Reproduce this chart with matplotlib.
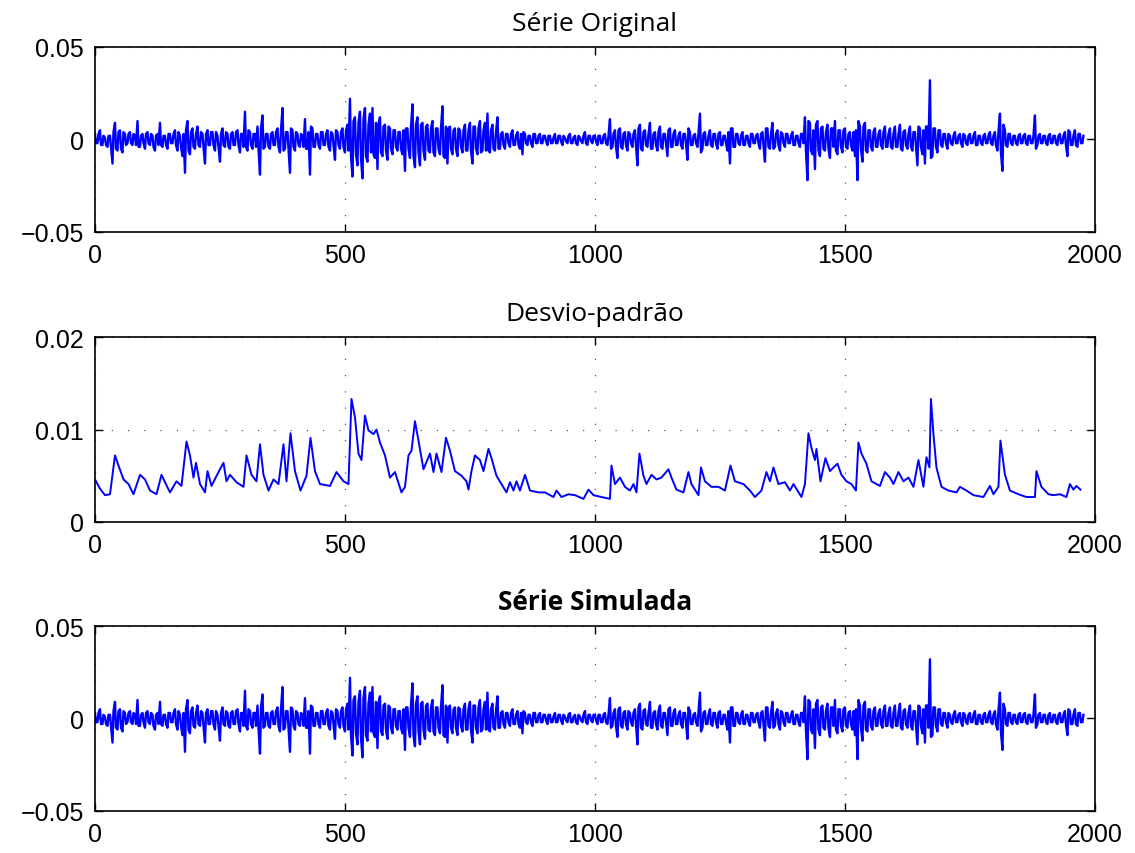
import numpy as np
import matplotlib.pyplot as plt

# retornos (unidades de 1e-3)
# ret_vals: observações 0, 5, 10, ... ; ret_mid: observações 2, 7, 12, ...
ret_step = 5
ret_vals = [
    3, -2, 5, -3, 1, -4, 2, -13, 9, -6, 5, -7, 3, -2, 4, -3, 2, 10, -4, 3,
    -5, 4, -3, 2, -6, 3, 9, -4, 2, -5, 3, -2, 5, -6, 2, -9, -18, 10, -8, 6,
    -5, 7, -4, 3, -13, 5, -3, 4, -6, 2, -12, 6, -4, 3, -5, 4, -3, 5, -7, 3,
    15, -6, 4, -5, 3, 7, -19, 13, -4, 3, -5, 4, -3, 6, -7, 17, -5, 4, -18, 5,
    -6, 3, -4, 2, 11, -5, -19, 6, -4, 3, -5, 4, -3, 5, -6, 3, -11, 4, -5, 6,
    -7, 8, 22, -20, 12, -14, 15, -21, 17, -12, 14, 17, -10, -16, 12, -9, 8, -11, 6, -8,
    5, -6, 4, -8, -17, 6, -10, 19, -15, 12, -14, 9, -11, 8, -7, 10, -9, 6, -8, 18,
    -10, -13, 7, -8, 6, -9, 5, -7, 8, -6, 9, -13, 7, -8, 10, -6, 9, 14, -7, 8,
    -6, 12, -5, 4, -5, 3, -4, 5, -3, 4, -5, -8, 3, -3, 2, -4, 3, -2, 3, -2,
    2, -3, 2, -2, 3, -2, 2, -3, 1, -2, 3, -2, 2, -3, 1, -2, 4, -3, 2, -2,
    2, -3, 2, -2, 3, -3, 11, -4, 5, -10, 6, -5, 4, -6, 3, -4, 5, -14, 8, -6,
    5, -4, 9, -5, 4, -6, 7, -5, 3, -9, 6, -4, 5, -3, 4, -5, 3, -11, 4, -3,
    3, -4, 14, -5, 4, -3, 5, -4, 3, -5, 4, -3, 2, -6, -13, 6, -4, 3, -3, 4,
    -3, 2, -4, 3, -2, 3, -5, 4, -12, 6, -5, 9, -4, 5, -6, 3, -4, 3, -2, 4,
    -3, 2, -4, 3, 12, -22, 9, -8, -16, 10, -9, 7, -6, 8, -10, 6, 10, -8, 5, -7,
    6, -5, 4, -6, -9, -22, 7, -12, 9, -7, 5, -6, 6, -4, 5, -5, 7, -4, 6, -5,
    7, -4, 8, -6, 5, -5, 7, -6, 4, -14, 6, -8, -13, 7, 32, -9, 6, -7, 5, -4,
    3, -5, 2, -3, 4, -2, 3, -4, 2, -3, 3, -2, 4, -3, 2, -3, 3, -2, 4, -3,
    4, -6, 14, -17, 5, -4, 3, -3, 2, -3, 3, -2, 3, -3, 2, -2, 13, -3, 3, -2,
    2, -3, 3, -2, 2, -3, 3, -2, 4, -9, 4, -3, 5, -4, 3, -2,
]
ret_mid = [
    -2, 3, -3, 2, -3, 2, -4, 4, -5, 4, -5, 4, -3, 3, -2, 3, -3, -4, 2, -2,
    3, -2, 3, -4, 2, -3, -3, 2, -3, 3, -2, 3, -3, 4, -4, 3, 5, -6, 4, -4,
    3, -3, 4, -4, 3, -3, 4, -3, 4, -4, 3, -3, 4, -4, 3, -3, 4, -3, 3, -4,
    -4, 5, -3, 3, -4, -5, 6, -5, 3, -4, 3, -3, 4, -4, 5, -6, 4, -5, 6, -4,
    4, -3, 3, -4, -5, 4, 7, -4, 3, -3, 4, -3, 3, -4, 4, -3, 5, -3, 4, -4,
    5, -6, -9, 10, -8, 9, -10, 11, -9, 8, -7, -8, 9, 8, -7, 7, -6, 7, -5, 5,
    -4, 4, -5, 5, 6, -5, 7, -9, 8, -7, 8, -6, 7, -6, 6, -7, 6, -5, 6, -9,
    7, 6, -5, 5, -5, 6, -4, 5, -6, 5, -6, 7, -5, 6, -7, 5, -6, -6, 5, -5,
    4, -5, 3, -3, 3, -2, 3, -3, 2, -3, 3, 4, -2, 2, -2, 3, -2, 2, -2, 2,
    -1, 2, -2, 1, -2, 2, -1, 2, -1, 2, -2, 1, -2, 2, -1, 2, -2, 2, -1, 2,
    -1, 2, -2, 2, -2, 2, -5, 3, -4, 5, -4, 3, -3, 4, -2, 3, -3, 6, -5, 4,
    -3, 3, -5, 3, -3, 4, -4, 3, -2, 5, -4, 3, -3, 2, -3, 3, -2, 6, -3, 2,
    -2, 3, -7, 3, -3, 2, -3, 3, -2, 3, -3, 2, -2, 4, 6, -4, 3, -2, 2, -3,
    2, -2, 3, -2, 2, -2, 3, -3, 6, -4, 3, -5, 3, -3, 4, -2, 3, -2, 2, -3,
    2, -2, 3, -2, -6, 10, -6, 5, 8, -6, 6, -5, 4, -5, 6, -4, -6, 5, -4, 5,
    -4, 3, -3, 4, 5, 10, -5, 7, -6, 5, -4, 4, -4, 3, -3, 4, -4, 3, -4, 3,
    -4, 3, -5, 4, -3, 3, -4, 4, -3, 7, -4, 5, 7, -5, -10, 6, -4, 5, -3, 3,
    -2, 3, -2, 2, -2, 2, -2, 3, -2, 2, -2, 2, -3, 2, -2, 2, -2, 2, -2, 2,
    -3, 4, -7, 8, -3, 3, -2, 2, -2, 2, -2, 2, -2, 2, -2, 2, -5, 2, -2, 2,
    -2, 2, -2, 2, -2, 2, -2, 2, -3, 5, -3, 2, -3, 3, -2, 2,
]

# desvio-padrão (unidades de 1e-3)
std_t = [0, 10, 20, 30, 40, 47, 57, 67, 77, 90, 100, 110, 123, 133, 140, 150, 163, 173, 183, 190,
         197, 202, 210, 220, 225, 233, 247, 257, 263, 270, 283, 297, 303, 313, 323, 330, 337, 347, 357, 367,
         377, 383, 391, 400, 411, 423, 431, 440, 450, 470, 483, 497, 507, 513, 520, 527, 533, 540, 547, 557,
         563, 570, 580, 590, 600, 613, 620, 627, 633, 640, 647, 657, 670, 677, 683, 693, 702, 710, 720, 733,
         743, 747, 753, 760, 770, 777, 787, 793, 803, 813, 823, 830, 837, 843, 850, 860, 870, 887, 900, 917,
         923, 933, 947, 960, 977, 987, 997, 1013, 1030, 1033, 1040, 1050, 1060, 1070, 1077, 1083, 1089, 1097, 1103, 1113,
         1123, 1133, 1147, 1153, 1163, 1177, 1187, 1193, 1207, 1212, 1220, 1233, 1247, 1260, 1271, 1280, 1297, 1310, 1320, 1333,
         1343, 1350, 1357, 1367, 1380, 1390, 1397, 1413, 1420, 1427, 1433, 1440, 1443, 1451, 1461, 1470, 1477, 1485, 1493, 1503,
         1513, 1522, 1527, 1533, 1543, 1553, 1570, 1580, 1590, 1597, 1607, 1617, 1627, 1637, 1647, 1657, 1663, 1669, 1672, 1677,
         1683, 1693, 1707, 1723, 1730, 1743, 1757, 1777, 1790, 1797, 1807, 1811, 1820, 1830, 1847, 1863, 1880, 1883, 1893, 1907,
         1917, 1930, 1943, 1950, 1957, 1963, 1971]
std_v = [4.6, 3.6, 2.9, 3.0, 7.2, 6.1, 4.6, 4.1, 3.0, 5.1, 4.6, 3.4, 3.0, 5.1, 4.3, 3.2, 4.4, 3.9, 8.7, 7.2,
         4.8, 6.4, 4.1, 3.2, 5.5, 3.9, 5.4, 6.4, 4.4, 5.1, 4.3, 3.8, 7.2, 5.1, 4.4, 8.4, 5.1, 3.4, 4.6, 4.1,
         8.4, 4.4, 9.6, 5.5, 3.4, 5.0, 9.1, 5.5, 4.1, 3.9, 5.4, 4.4, 4.1, 13.3, 11.3, 7.4, 6.7, 11.5, 9.9, 9.5,
         10.0, 8.6, 7.2, 4.8, 5.4, 3.2, 3.8, 7.2, 7.7, 10.9, 8.8, 5.7, 7.4, 5.4, 7.4, 5.4, 9.1, 7.7, 5.5, 5.0,
         4.4, 3.5, 5.5, 7.2, 6.7, 5.5, 7.9, 6.9, 5.0, 4.1, 3.2, 4.3, 3.4, 4.4, 3.4, 5.1, 3.4, 3.2, 3.2, 2.7,
         3.4, 2.7, 3.0, 2.9, 2.5, 3.5, 2.9, 2.7, 2.5, 6.1, 4.1, 4.8, 3.8, 3.4, 4.1, 3.2, 7.4, 5.0, 4.1, 5.1,
         4.6, 4.8, 5.7, 4.8, 3.5, 3.2, 5.4, 4.1, 2.9, 5.9, 4.4, 3.8, 3.8, 3.4, 6.1, 4.4, 4.1, 3.4, 2.7, 3.4,
         5.4, 4.4, 5.9, 4.1, 4.3, 3.4, 4.1, 2.7, 4.1, 9.6, 8.0, 6.7, 7.9, 4.4, 6.9, 5.5, 5.9, 6.3, 5.1, 4.4,
         4.1, 3.4, 8.6, 7.4, 6.3, 4.4, 3.9, 5.4, 4.8, 4.1, 5.4, 4.4, 4.8, 3.8, 6.7, 3.8, 7.0, 5.9, 13.3, 9.5,
         5.9, 3.8, 3.4, 3.2, 3.8, 3.4, 2.9, 2.7, 3.9, 3.0, 3.8, 8.8, 5.1, 3.4, 3.0, 2.7, 2.7, 5.5, 3.8, 3.0,
         2.9, 3.0, 2.7, 4.1, 3.5, 3.9, 3.5]

titles = ["Série Original", "Desvio-padrão", "Série Simulada"]

ret_x = np.concatenate([np.arange(len(ret_vals)) * ret_step,
                        np.arange(len(ret_mid)) * ret_step + 2])
ret_y = np.concatenate([ret_vals, ret_mid]) * 1e-3
order = np.argsort(ret_x)
ret_x, ret_y = ret_x[order], ret_y[order]
std_x = np.array(std_t)
std_y = np.array(std_v) * 1e-3

plt.rcParams['font.family'] = ['Liberation Sans', 'DejaVu Sans']

fig = plt.figure(figsize=(11.35, 8.54), dpi=100)
bottoms = [0.7272, 0.3876, 0.0492]
axs = [fig.add_axes([0.0837, b, 0.881, 0.2166]) for b in bottoms]

series = [(ret_x, ret_y), (std_x, std_y), (ret_x, ret_y)]
widths = [1.7, 1.4, 1.7]
ylims = [(-0.05, 0.05), (0, 0.02), (-0.05, 0.05)]
yticks = [[-0.05, 0, 0.05], [0, 0.01, 0.02], [-0.05, 0, 0.05]]
ylabels = [["\u22120.05", "0", "0.05"], ["0", "0.01", "0.02"], ["\u22120.05", "0", "0.05"]]

for i, ax in enumerate(axs):
    x, y = series[i]
    ax.plot(x, y, color='#0000ff', lw=widths[i])
    ax.set_xlim(0, 2000)
    ax.set_ylim(*ylims[i])
    ax.set_xticks([0, 500, 1000, 1500, 2000])
    ax.set_xticklabels(["0", "500", "1000", "1500", "2000"])
    ax.set_yticks(yticks[i])
    ax.set_yticklabels(ylabels[i])
    ax.tick_params(direction='in', top=True, right=True, length=6, width=1,
                   labelsize=18, pad=8)
    ax.grid(True, color='0.35', lw=0.9, linestyle=(0, (1, 12)))
    for s in ax.spines.values():
        s.set_linewidth(1.2)
    ax.set_title(titles[i], family=['Open Sans', 'DejaVu Sans'], fontsize=19,
                 fontweight='bold' if i == 2 else 'normal', pad=12)

fig.savefig('out.png', dpi=100)
